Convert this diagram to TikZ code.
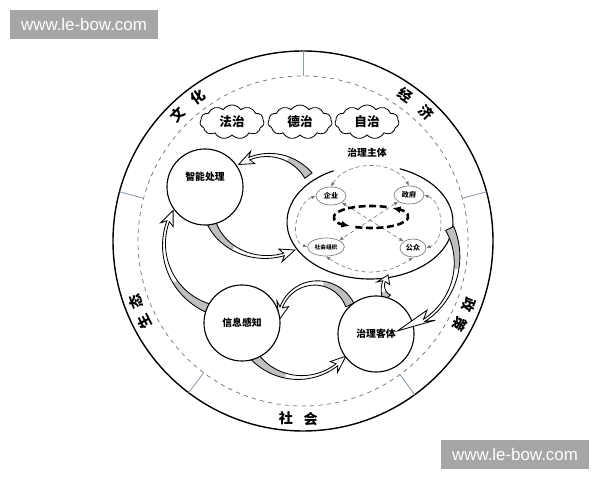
\documentclass[tikz,border=0pt]{standalone}
\usepackage{fontspec}
\newfontfamily\cjk{Noto Sans CJK SC}
\newfontfamily\arial{Liberation Sans}
\usetikzlibrary{shapes.geometric,shapes.symbols,arrows.meta}
\definecolor{separ}{HTML}{8C9BAA}
\begin{document}
\begin{tikzpicture}[x=0.025cm,y=0.025cm]
	\tikzstyle{cercle}=[circle,draw,line width=0.8pt,fill=white,minimum size=1.9cm,inner sep=0pt,font=\cjk\bfseries\fontsize{7}{8}\selectfont]
	\tikzstyle{texte}=[font=\cjk\bfseries\fontsize{7}{8}\selectfont]
	\tikzstyle{nuage}=[cloud,draw,line width=0.6pt,cloud puffs=11,cloud puff arc=110,cloud ignores aspect,minimum width=1.6cm,minimum height=0.85cm,inner sep=0pt,font=\cjk\bfseries\fontsize{9}{10}\selectfont]
	\tikzstyle{acteur}=[ellipse,draw=black!50,line width=0.5pt,minimum width=0.75cm,minimum height=0.45cm,inner sep=0pt,font=\cjk\bfseries\fontsize{5}{6}\selectfont]
	\tikzstyle{secteur}=[font=\cjk\bfseries\fontsize{10}{12}\selectfont]
	\tikzstyle{pointilles}=[black!55,densely dashed,line width=0.4pt,{Latex[length=3pt,width=2.5pt]}-{Latex[length=3pt,width=2.5pt]}]
	\tikzstyle{boucle}=[dash pattern=on 5pt off 2.5pt,line width=1.8pt,-{Latex[length=6pt,width=5pt]}]
	\tikzstyle{gris}=[fill=black!25]
	\tikzstyle{trait}=[draw=black,line width=0.6pt,line join=miter]
	\tikzstyle{marque}=[fill=black!35,text=white,font=\arial\fontsize{12}{14}\selectfont,minimum width=3.7cm,minimum height=0.73cm,inner sep=0pt]
	% fleches en volute
	\def\Lt{9}\def\Lq{2.6}\def\Lb{6.5}
	\def\Larg{(0.5*(\Lq+(\Lt-\Lq)*(1-(\t-\va)/(\vb-\va))*(1-(\t-\va)/(\vb-\va))))}
	\def\contour{plot[domain=\va:\vb,samples=30,variable=\t] ({\cx+(\rx+\Larg)*cos(\t)},{\cy+(\ry+\Larg)*sin(\t)}) -- ({\cx+(\rx+\Lb)*cos(\vr)},{\cy+(\ry+\Lb)*sin(\vr)}) -- ({\cx+\rx*cos(\vc)},{\cy+\ry*sin(\vc)}) -- ({\cx+(\rx-\Lb)*cos(\vr)},{\cy+(\ry-\Lb)*sin(\vr)}) -- plot[domain=\vb:\va,samples=30,variable=\t] ({\cx+(\rx-\Larg)*cos(\t)},{\cy+(\ry-\Larg)*sin(\t)}) -- cycle}
	\def\queue{plot[domain=\va:\vg,samples=20,variable=\t] ({\cx+(\rx+\Larg)*cos(\t)},{\cy+(\ry+\Larg)*sin(\t)}) -- plot[domain=\vg:\va,samples=20,variable=\t] ({\cx+(\rx-\Larg)*cos(\t)},{\cy+(\ry-\Larg)*sin(\t)}) -- cycle}
	\def\volute#1#2#3#4#5#6#7{%
		\def\cx{#1}\def\cy{#2}\def\rx{#3}\def\ry{#4}%
		\pgfmathsetmacro\va{#5}\pgfmathsetmacro\vb{#6}\pgfmathsetmacro\vc{#7}%
		\pgfmathsetmacro\vg{\va+0.4*(\vb-\va)}%
		\pgfmathsetmacro\vr{\vb-0.3*(\vc-\vb)}%
		\fill[white] \contour;
		\fill[gris] \queue;
		\draw[trait] \contour;
	}
	\useasboundingbox (0,0) rectangle (600,480);
	\fill[white] (0,0) rectangle (600,480);
	% anneau exterieur
	\coordinate (O) at (303,239);
	\draw[line width=1pt] (O) circle[radius=190];
	\draw[black!55,dashed,line width=0.5pt] (O) circle[radius=165];
	\foreach \a in {90,165,233,306,15}
		\draw[separ,line width=0.6pt] (O) ++(\a:165) -- ++(\a:25);
	\foreach \car/\ang/\rot [count=\i] in {文/135/45,化/126/36,经/55/-35,济/46/-44,政/-21/-111,策/-28/-118,社/264.5/0,会/272.5/0,生/207/117,态/200/110}
		\path (O) ++(\ang:178) node[secteur,rotate=\rot] (car\i) {\car};
	% trois nuages
	\node[nuage] (fazhi) at (232,358) {法治};
	\node[nuage] (dezhi) at (300,358) {德治};
	\node[nuage] (zizhi) at (367,358) {自治};
	% sujet de gouvernance
	\node[ellipse,fill=white,minimum width=4.15cm,minimum height=2.85cm] (sujet) at (370,258) {};
	\draw[line width=0.8pt] (sujet.center) ++(116:83 and 57) arc[start angle=116,end angle=429,x radius=83,y radius=57];
	\node[texte] (titre) at (367,327) {治理主体};
	\node[acteur] (qiye) at (331,284) {企业};
	\node[acteur] (zhengfu) at (409,285) {政府};
	\node[acteur,minimum width=0.92cm,font=\cjk\bfseries\fontsize{4}{5}\selectfont] (shehui) at (326,233) {社会组织};
	\node[acteur,minimum width=0.65cm] (gongzhong) at (413,232) {公众};
	\draw[pointilles] (qiye.north) to[out=60,in=120] (zhengfu.north);
	\draw[pointilles] (qiye.west) to[out=200,in=160] (shehui.west);
	\draw[pointilles] (zhengfu.east) to[out=-20,in=20] (gongzhong.east);
	\draw[pointilles] (shehui.south) to[out=-35,in=-145] (gongzhong.south);
	\draw[pointilles] (qiye.south east) -- (gongzhong.north west);
	\draw[pointilles] (zhengfu.south west) -- (shehui.north east);
	\coordinate (tourbillon) at (371,263);
	\draw[boucle] (tourbillon) ++(-115:37 and 11) arc[start angle=-115,end angle=55,x radius=37,y radius=11];
	\draw[boucle] (tourbillon) ++(65:37 and 11) arc[start angle=65,end angle=235,x radius=37,y radius=11];
	% volutes
	\volute{268}{275}{50}{50}{36}{112}{126}
	\volute{266}{275}{58}{52}{201}{288}{300}
	\volute{232}{235.5}{68}{68}{249}{160}{150}
	\volute{300}{162.5}{60}{60}{221}{308}{320}
	\volute{316}{160}{37}{37}{24}{160}{180}
	\volute{400}{193}{17}{17}{220}{160}{135}
	% trois cercles
	\node[cercle,label={[texte,yshift=0.25cm]center:智能处理}] (traitement) at (205,293) {};
	\node[cercle] (perception) at (242,157) {信息感知};
	\node[cercle] (objet) at (376,146) {治理客体};
	\volute{385}{220}{72}{72}{26}{-57}{-80}
	% filigranes
	\node[marque] (filigraneA) at (84,455.5) {www.le-bow.com};
	\node[marque] (filigraneB) at (515,25.5) {www.le-bow.com};
\end{tikzpicture}
\end{document}
